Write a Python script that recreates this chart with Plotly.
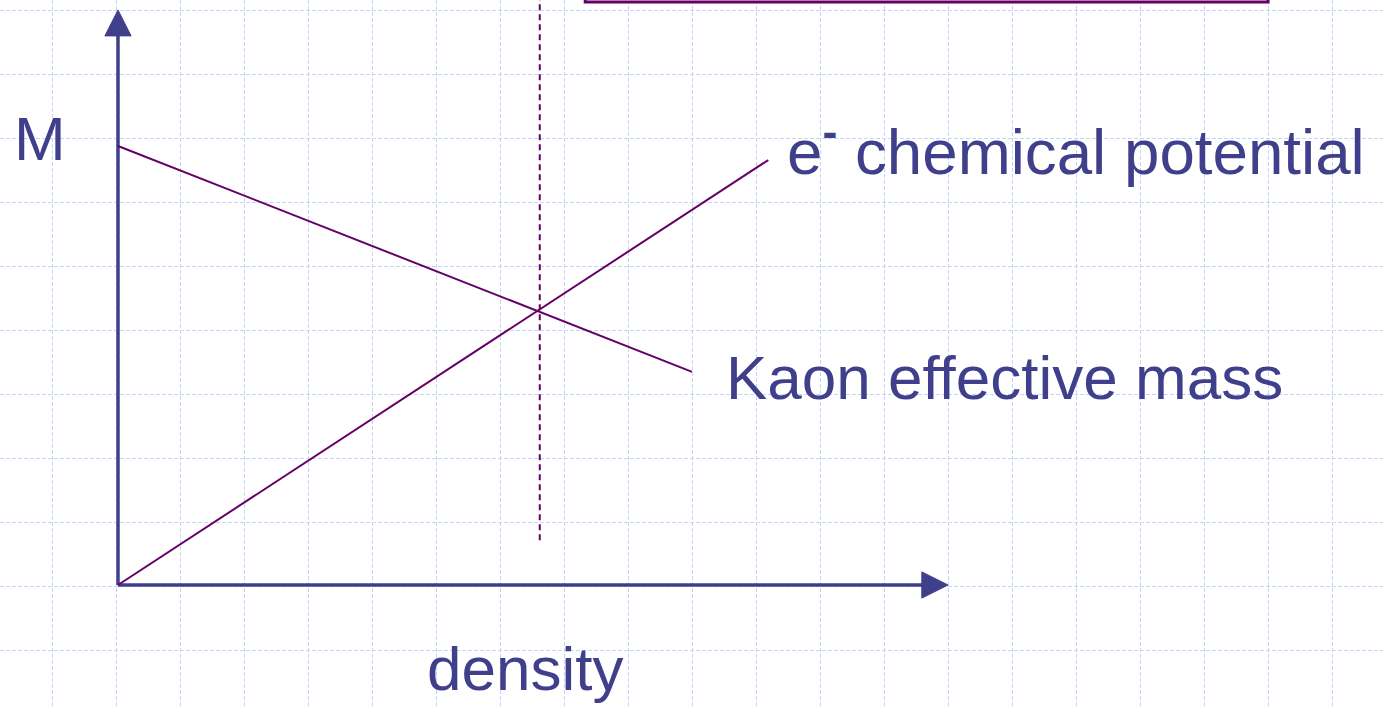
import plotly.graph_objects as go

# ---- data (density units; 1 unit = one grid cell) ----
kaon_x = [0.0, 8.97]
kaon_y = [6.86, 3.33]
chem_x = [0.0, 10.16]
chem_y = [0.0, 6.64]
crit_x = [6.59, 6.59]
crit_y = [0.70, 9.2]

axis_y_x = [0.0, 0.0]
axis_y_y = [0.0, 8.58]
axis_x_x = [0.0, 12.57]
axis_x_y = [0.0, 0.0]
arrow_up_x = [-0.205, 0.205, 0.0, -0.205]
arrow_up_y = [8.58, 8.58, 8.985, 8.58]
arrow_right_x = [12.56, 12.56, 12.97, 12.56]
arrow_right_y = [-0.205, 0.205, 0.0, -0.205]

labels = ["M", "e<sup><b>-</b></sup> chemical potential", "Kaon effective mass", "density"]
label_x = [-1.22, 10.42, 9.47, 6.36]
label_y = [6.98, 6.85, 3.24, -1.30]
label_anchor = ["center", "left", "left", "center"]
label_size = [62, 63.7, 62, 62]

AXC = "#3f3f8c"
LINEC = "#660066"
GRIDC = "#c6d4fb"
FONT = "Liberation Sans, Arial, sans-serif"

fig = go.Figure()
fig.add_trace(go.Scatter(x=axis_y_x, y=axis_y_y, mode="lines", line=dict(color=AXC, width=3.5), hoverinfo="skip"))
fig.add_trace(go.Scatter(x=axis_x_x, y=axis_x_y, mode="lines", line=dict(color=AXC, width=3.5), hoverinfo="skip"))
fig.add_trace(go.Scatter(x=arrow_up_x, y=arrow_up_y, mode="lines", fill="toself", fillcolor=AXC, line=dict(color=AXC, width=1), hoverinfo="skip"))
fig.add_trace(go.Scatter(x=arrow_right_x, y=arrow_right_y, mode="lines", fill="toself", fillcolor=AXC, line=dict(color=AXC, width=1), hoverinfo="skip"))
fig.add_trace(go.Scatter(x=crit_x, y=crit_y, mode="lines", line=dict(color=LINEC, width=2, dash="6px,4px"), hoverinfo="skip"))
fig.add_trace(go.Scatter(x=kaon_x, y=kaon_y, mode="lines", line=dict(color=LINEC, width=2), hoverinfo="skip"))
fig.add_trace(go.Scatter(x=chem_x, y=chem_y, mode="lines", line=dict(color=LINEC, width=2), hoverinfo="skip"))

for t, x, y, a, s in zip(labels, label_x, label_y, label_anchor, label_size):
    fig.add_annotation(x=x, y=y, text=t, showarrow=False, xanchor=a, yanchor="middle",
                       font=dict(family=FONT, size=s, color=AXC))

# box partly visible at top
fig.add_shape(type="rect", x0=7.30, x1=17.97, y0=9.11, y1=9.6, xref="x", yref="y",
              line=dict(color=LINEC, width=3), fillcolor="#ffffd8", layer="above")

fig.update_layout(
    width=1383, height=707,
    margin=dict(l=0, r=0, t=0, b=0),
    paper_bgcolor="white", plot_bgcolor="white",
    showlegend=False,
    xaxis=dict(range=[-118/64, (1383-118)/64], showticklabels=False, zeroline=False,
               showgrid=True, gridcolor=GRIDC, griddash="4px,2px", gridwidth=1,
               tick0=-1.03125, dtick=1, ticks="", fixedrange=True),
    yaxis=dict(range=[-122/64, 585/64], showticklabels=False, zeroline=False,
               showgrid=True, gridcolor=GRIDC, griddash="4px,2px", gridwidth=1,
               tick0=-0.0156, dtick=1, ticks="", fixedrange=True),
)

fig.write_html("out.html", config={"displayModeBar": False},
               post_script="document.body.style.margin='0';document.body.style.overflow='hidden';")
